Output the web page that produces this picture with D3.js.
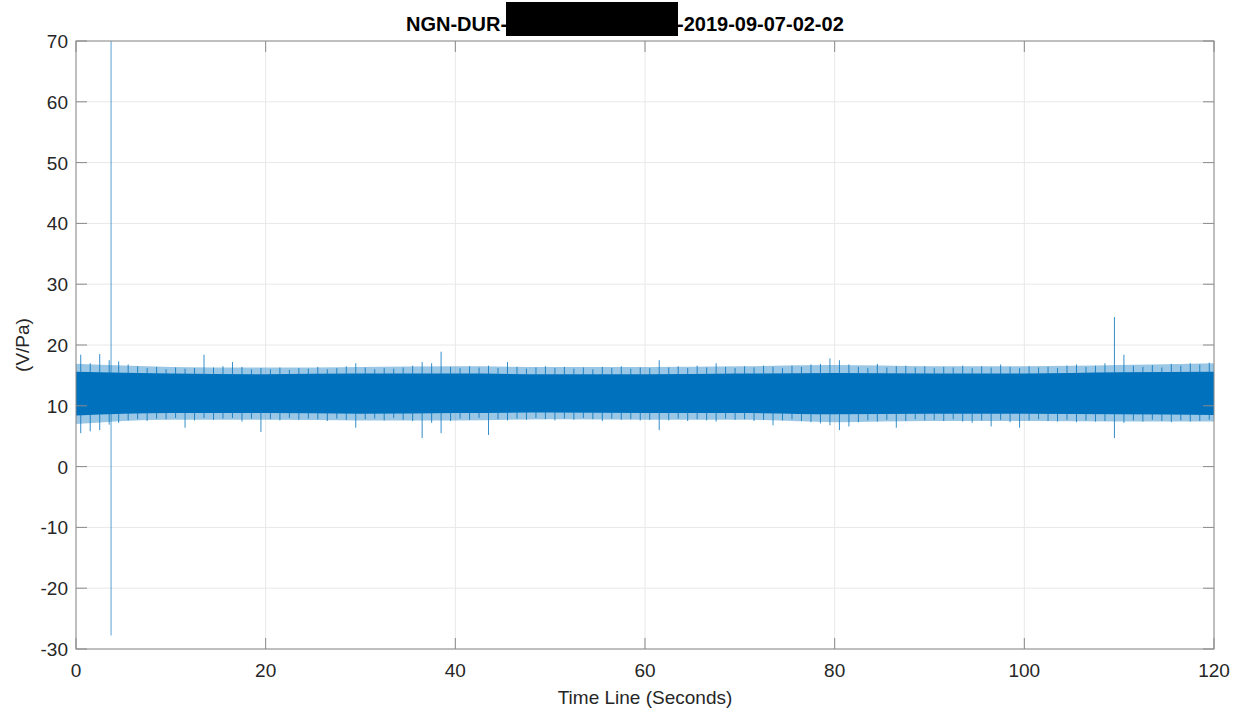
<!DOCTYPE html>
<html>
<head>
<meta charset="utf-8">
<script src="https://cdn.jsdelivr.net/npm/d3@7"></script>
<style>
  html, body { margin: 0; padding: 0; background: #ffffff; }
  svg { display: block; font-family: "Liberation Sans", Arial, Helvetica, sans-serif; }
</style>
</head>
<body>
<svg id="chart" width="1236" height="711"></svg>
<script>
// ---------- data ----------
const titleLeft = "NGN-DUR-";
const titleRight = "-2019-09-07-02-02";
const xLabel = "Time Line (Seconds)";
const yLabel = "(V/Pa)";
const xTicks = [0, 20, 40, 60, 80, 100, 120];
const yTicks = [-30, -20, -10, 0, 10, 20, 30, 40, 50, 60, 70];

// one-second bins, start times 0..119 s
const binStart = d3.range(0, 120);
// highest sample in each one-second bin (V/Pa)
const peakHigh = [
  18.4, 17.0, 18.5, 17.5, 17.3, 16.8, 16.5, 16.2, 16.4, 16.0,
  16.3, 16.1, 16.2, 18.4, 16.3, 16.5, 17.2, 16.4, 16.0, 16.2,
  16.0, 16.3, 15.9, 16.2, 16.1, 16.4, 16.0, 16.2, 16.5, 17.0,
  16.3, 16.0, 16.2, 16.1, 16.3, 16.6, 17.2, 17.0, 18.9, 16.4,
  16.2, 16.5, 16.3, 16.6, 16.2, 17.2, 16.4, 16.1, 16.3, 16.5,
  16.2, 16.4, 16.1, 16.3, 16.0, 16.4, 16.2, 16.5, 16.1, 16.3,
  16.2, 17.5, 16.3, 16.5, 16.2, 16.6, 16.3, 17.0, 16.4, 16.2,
  16.5, 16.3, 16.6, 16.4, 16.2, 16.6, 16.4, 16.8, 16.9, 17.8,
  17.5, 16.8, 16.4, 16.2, 16.9, 16.3, 16.5, 16.6, 16.3, 16.5,
  16.2, 16.4, 16.3, 16.6, 16.2, 16.5, 16.3, 16.8, 16.4, 16.2,
  16.5, 16.3, 16.4, 16.2, 16.6, 16.8, 16.4, 16.6, 17.0, 24.6,
  18.4, 16.6, 16.4, 16.7, 16.3, 16.9, 16.6, 17.0, 16.8, 17.1
];
// lowest sample in each one-second bin (V/Pa)
const peakLow = [
  5.5, 5.8, 6.0, 6.9, 7.2, 7.6, 7.8, 7.5, 7.9, 7.8,
  8.0, 6.4, 7.6, 8.0, 7.7, 7.9, 8.0, 7.4, 7.9, 5.7,
  7.8, 7.6, 8.0, 7.7, 7.9, 7.8, 7.5, 7.9, 7.7, 6.4,
  7.8, 7.9, 7.6, 8.0, 7.7, 7.5, 4.7, 7.2, 5.5, 7.5,
  7.9, 7.7, 8.0, 5.2, 7.8, 7.6, 7.9, 7.7, 8.0, 7.8,
  7.6, 7.9, 7.7, 8.0, 7.8, 7.5, 7.9, 7.7, 7.8, 7.6,
  7.7, 6.0, 7.6, 7.9, 7.5, 7.8, 7.6, 7.4, 7.9, 7.7,
  7.8, 7.5, 7.7, 6.8, 7.6, 7.8, 7.5, 7.3, 7.1, 6.8,
  6.0, 6.6, 7.3, 7.6, 7.4, 7.7, 6.4, 7.5, 7.8, 7.6,
  7.7, 7.5, 7.8, 7.4, 7.2, 7.6, 6.6, 7.7, 7.3, 6.4,
  7.6, 7.8, 7.5, 7.4, 7.7, 7.3, 7.6, 7.4, 7.5, 4.7,
  7.2, 7.6, 7.4, 7.7, 7.5, 7.3, 7.6, 7.4, 7.5, 7.7
];
// band edges every 10 s: solid core and soft fringe
const bandTime = [0, 10, 20, 30, 40, 50, 60, 70, 80, 90, 100, 110, 120];
const coreHigh = [15.6, 15.3, 15.2, 15.3, 15.3, 15.2, 15.2, 15.3, 15.4, 15.3, 15.3, 15.5, 15.6];
const coreLow  = [8.4, 8.8, 8.8, 8.7, 8.8, 8.9, 8.8, 8.8, 8.6, 8.7, 8.7, 8.6, 8.5];
const fringeHigh = [16.9, 16.4, 16.3, 16.4, 16.5, 16.4, 16.4, 16.5, 16.7, 16.5, 16.5, 16.7, 17.0];
const fringeLow  = [7.0, 7.7, 7.7, 7.6, 7.6, 7.8, 7.7, 7.7, 7.3, 7.5, 7.5, 7.4, 7.4];
// single large transient
const transientTime = [3.7, 3.7];
const transientValue = [-27.8, 75];

// ---------- layout ----------
const svg = d3.select("#chart");
const mLeft = 76, mRight = 1214, mTop = 41, mBottom = 649;
const x = d3.scaleLinear().domain([0, 120]).range([mLeft, mRight]);
const y = d3.scaleLinear().domain([-30, 70]).range([mBottom, mTop]);
const lineColor = "#0072BD";
const axisColor = "#8a8a8a";
const textColor = "#262626";

svg.append("rect").attr("x", 0).attr("y", 0).attr("width", 1236).attr("height", 711).attr("fill", "#fff");

// grid
const grid = svg.append("g");
grid.selectAll("line.gx").data(xTicks).join("line")
  .attr("x1", d => x(d)).attr("x2", d => x(d)).attr("y1", mTop).attr("y2", mBottom)
  .attr("stroke", "#e8e8e8").attr("stroke-width", 1);
grid.selectAll("line.gy").data(yTicks).join("line")
  .attr("y1", d => y(d)).attr("y2", d => y(d)).attr("x1", mLeft).attr("x2", mRight)
  .attr("stroke", "#e8e8e8").attr("stroke-width", 1);

// clip
svg.append("clipPath").attr("id", "plotclip").append("rect")
  .attr("x", mLeft).attr("y", mTop).attr("width", mRight - mLeft).attr("height", mBottom - mTop);
const plot = svg.append("g").attr("clip-path", "url(#plotclip)");

const band = bandTime.map((t, i) => ({ t, chi: coreHigh[i], clo: coreLow[i], fhi: fringeHigh[i], flo: fringeLow[i] }));

// soft fringe
plot.append("path").datum(band)
  .attr("d", d3.area().curve(d3.curveMonotoneX).x(d => x(d.t)).y0(d => y(d.flo)).y1(d => y(d.fhi)))
  .attr("fill", lineColor).attr("fill-opacity", 0.4);

// dense core
plot.append("path").datum(band)
  .attr("d", d3.area().curve(d3.curveMonotoneX).x(d => x(d.t)).y0(d => y(d.clo)).y1(d => y(d.chi)))
  .attr("fill", lineColor);

// per-bin extremes as thin vertical strokes
const env = binStart.map((t, i) => ({ t: t + 0.5, hi: peakHigh[i], lo: peakLow[i] }));
plot.selectAll("line.pk").data(env).join("line")
  .attr("x1", d => x(d.t)).attr("x2", d => x(d.t))
  .attr("y1", d => y(d.lo)).attr("y2", d => y(d.hi))
  .attr("stroke", lineColor).attr("stroke-width", 1).attr("stroke-opacity", 0.8);

// transient
plot.append("path").datum(transientTime.map((t, i) => [t, transientValue[i]]))
  .attr("d", d3.line().x(d => x(d[0])).y(d => y(d[1])))
  .attr("stroke", lineColor).attr("stroke-width", 1.3).attr("stroke-opacity", 0.5).attr("fill", "none");

// axes box
svg.append("rect").attr("x", mLeft).attr("y", mTop).attr("width", mRight - mLeft).attr("height", mBottom - mTop)
  .attr("fill", "none").attr("stroke", axisColor).attr("stroke-width", 1);

// ticks (inward, all four sides)
const tl = 11;
const ticks = svg.append("g").attr("stroke", axisColor).attr("stroke-width", 1);
xTicks.forEach(v => {
  ticks.append("line").attr("x1", x(v)).attr("x2", x(v)).attr("y1", mBottom).attr("y2", mBottom - tl);
  ticks.append("line").attr("x1", x(v)).attr("x2", x(v)).attr("y1", mTop).attr("y2", mTop + tl);
});
yTicks.forEach(v => {
  ticks.append("line").attr("y1", y(v)).attr("y2", y(v)).attr("x1", mLeft).attr("x2", mLeft + tl);
  ticks.append("line").attr("y1", y(v)).attr("y2", y(v)).attr("x1", mRight).attr("x2", mRight - tl);
});

// tick labels
svg.append("g").selectAll("text").data(xTicks).join("text")
  .attr("x", d => x(d)).attr("y", 677).attr("text-anchor", "middle")
  .attr("font-size", 19).attr("fill", textColor).text(d => d);
svg.append("g").selectAll("text").data(yTicks).join("text")
  .attr("x", 68).attr("y", d => y(d) + 7).attr("text-anchor", "end")
  .attr("font-size", 19).attr("fill", textColor).text(d => d);

// axis labels
svg.append("text").attr("x", (mLeft + mRight) / 2).attr("y", 704).attr("text-anchor", "middle")
  .attr("font-size", 19).attr("fill", textColor).text(xLabel);
svg.append("text").attr("transform", `translate(29,${(mTop + mBottom) / 2}) rotate(-90)`)
  .attr("text-anchor", "middle").attr("font-size", 19).attr("fill", textColor).text(yLabel);

// title with redaction box
svg.append("text").attr("x", 406).attr("y", 31).attr("font-size", 20).attr("font-weight", "bold")
  .attr("fill", "#000").text(titleLeft);
svg.append("rect").attr("x", 506).attr("y", 2).attr("width", 172).attr("height", 34).attr("fill", "#000");
svg.append("text").attr("x", 677).attr("y", 31).attr("font-size", 20).attr("font-weight", "bold")
  .attr("fill", "#000").text(titleRight);
</script>
</body>
</html>
